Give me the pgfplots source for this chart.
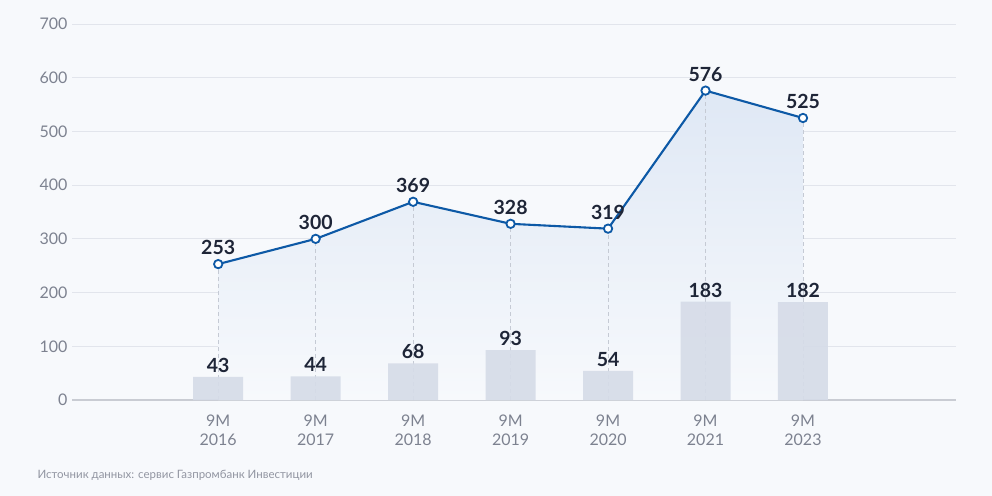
\documentclass[border=0pt]{standalone}
\usepackage{pgfplots}
\pgfplotsset{compat=1.18}
\usepackage{fontspec}
\setmainfont{Lato}
\definecolor{bgc}{HTML}{F7F9FC}
\definecolor{gridc}{HTML}{E2E5EC}
\definecolor{basec}{HTML}{C9CCD3}
\definecolor{barc}{HTML}{D6DCE8}
\definecolor{linec}{HTML}{0D59A6}
\definecolor{labc}{HTML}{1E2537}
\definecolor{tickc}{HTML}{7D8290}
\definecolor{dashc}{HTML}{C5CAD4}
\definecolor{areac}{HTML}{DFE8F5}
\begin{document}
\begin{tikzpicture}
\fill[bgc] (0,0) rectangle (992bp,496bp);
\begin{axis}[
  at={(72bp,96bp)}, anchor=south west,
  scale only axis, width=884bp, height=376bp,
  xmin=-1.5, xmax=7.57, ymin=0, ymax=700,
  ytick={0,100,...,700},
  xtick={0,...,6},
  xticklabels={{9M\\2016},{9M\\2017},{9M\\2018},{9M\\2019},{9M\\2020},{9M\\2021},{9M\\2023}},
  x tick label style={align=center, font=\fontsize{16bp}{19bp}\selectfont, text=tickc, yshift=-11bp},
  y tick label style={font=\fontsize{16bp}{19bp}\selectfont, text=tickc, xshift=-1bp},
  /pgf/number format/assume math mode=true,
  axis line style={draw=none},
  major tick length=0pt,
  ymajorgrids, grid style={gridc, line width=0.8bp},
  clip=false,
]
\draw[basec, line width=1.2bp] (axis cs:-1.5,0) -- (axis cs:7.57,0);
% area under line
\addplot[draw=none, top color=areac, bottom color=bgc, forget plot]
  coordinates {(0,253) (1,300) (2,369) (3,328) (4,319) (5,576) (6,525)} \closedcycle;
% dashed droplines
\addplot[ycomb, dashc, dash pattern=on 4bp off 3bp, line width=0.8bp, mark=none, forget plot]
  coordinates {(0,253) (1,300) (2,369) (3,328) (4,319) (5,576) (6,525)};
% bars
\addplot[ybar, bar shift=0pt, bar width=50bp, fill=barc, fill opacity=0.92, draw=none,
  nodes near coords, every node near coord/.append style={font=\fontsize{19.5bp}{22bp}\selectfont\bfseries, text=labc, anchor=south, yshift=1bp, text opacity=1}]
  coordinates {(0,43) (1,44) (2,68) (3,93) (4,54) (5,183) (6,182)};
% line
\addplot[linec, line width=2.1bp, mark=*, mark size=4.2bp, mark options={fill=white, draw=linec, line width=1.8bp},
  nodes near coords, every node near coord/.append style={font=\fontsize{19.5bp}{22bp}\selectfont\bfseries, text=labc, anchor=south, yshift=5bp}]
  coordinates {(0,253) (1,300) (2,369) (3,328) (4,319) (5,576) (6,525)};
\end{axis}
\node[anchor=west, text=tickc!85, font=\fontsize{11.5bp}{13bp}\selectfont] at (34bp,21bp) {Источник данных: сервис Газпромбанк Инвестиции};
\end{tikzpicture}
\end{document}
